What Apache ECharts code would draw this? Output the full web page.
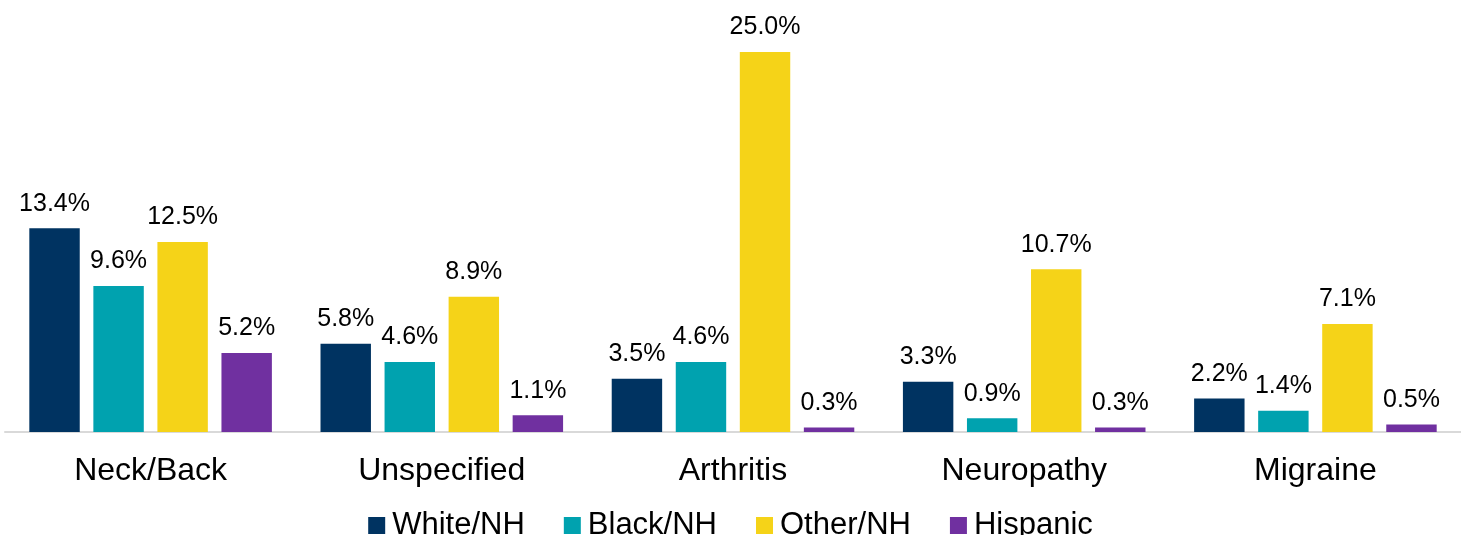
<!DOCTYPE html>
<html>
<head>
<meta charset="utf-8">
<script src="https://cdn.jsdelivr.net/npm/echarts@6/dist/echarts.min.js"></script>
<style>
  html, body { margin: 0; padding: 0; background: #fff; }
  #chart { width: 1461px; height: 535px; }
</style>
</head>
<body>
<div id="chart"></div>
<script>
var categories = ['Neck/Back', 'Unspecified', 'Arthritis', 'Neuropathy', 'Migraine'];
var seriesNames = ['White/NH', 'Black/NH', 'Other/NH', 'Hispanic'];
var whiteNH = [13.4, 5.8, 3.5, 3.3, 2.2];
var blackNH = [9.6, 4.6, 4.6, 0.9, 1.4];
var otherNH = [12.5, 8.9, 25.0, 10.7, 7.1];
var hispanic = [5.2, 1.1, 0.3, 0.3, 0.5];
var colors = ['#003361', '#00A2AF', '#F5D318', '#7030A0'];

var font = '"Liberation Sans", Arial, sans-serif';
var allData = [whiteNH, blackNH, otherNH, hispanic];

var series = allData.map(function (d, i) {
  return {
    name: seriesNames[i],
    type: 'bar',
    data: d,
    barGap: '27%',
    barCategoryGap: '16.7%',
    itemStyle: {color: colors[i]},
    label: {
      show: true,
      position: 'top',
      distance: 12,
      color: '#000',
      fontFamily: font,
      fontSize: 25,
      formatter: function (p) { return p.value.toFixed(1) + '%'; }
    }
  };
});

var option = {
  animation: false,
  textStyle: {fontFamily: font},
  legend: {
    data: seriesNames,
    left: 'center',
    top: 505,
    itemWidth: 17,
    itemHeight: 17,
    itemGap: 39,
    icon: 'rect',
    textStyle: {fontFamily: font, fontSize: 31, color: '#000', padding: [0, 0, 0, 2]}
  },
  grid: {left: 5, right: 0, top: 52, bottom: 103},
  xAxis: {
    type: 'category',
    data: categories,
    axisLine: {lineStyle: {color: '#d9d9d9', width: 2}},
    axisTick: {show: false},
    axisLabel: {color: '#000', fontSize: 32, margin: 23, fontFamily: font}
  },
  yAxis: {
    type: 'value',
    min: 0,
    max: 25,
    show: false,
    splitLine: {show: false}
  },
  series: series
};

var chart = echarts.init(document.getElementById('chart'));
chart.setOption(option, true);
</script>
</body>
</html>
